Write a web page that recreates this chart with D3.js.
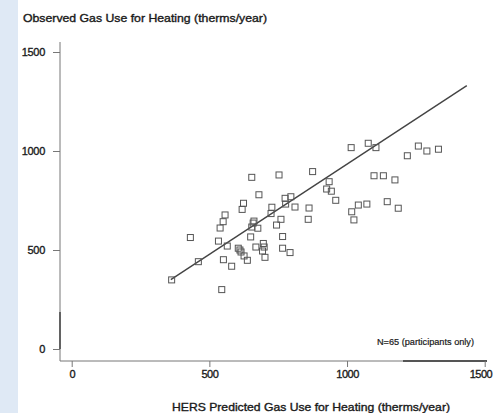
<!DOCTYPE html>
<html><head><meta charset="utf-8">
<script src="https://cdn.jsdelivr.net/npm/d3@7"></script>
<style>
html,body{margin:0;padding:0;background:#fff;}
svg{display:block;}
text{font-family:"Liberation Sans",Arial,sans-serif;fill:#1a1a1a;stroke:#1a1a1a;stroke-width:0.35px;}
</style></head>
<body>
<svg id="chart" width="493" height="413"></svg>
<script>
// Data (therms/year)
const predicted = [363,460,431,545,533,565,551,581,557,550,539,605,615,626,638,624,619,654,753,680,
  662,654,676,650,669,696,693,702,766,766,793,775,796,777,811,727,724,760,744,862,
  859,875,935,926,943,959,1015,1077,1105,1219,1259,1290,1332,1098,1132,1174,1041,1072,1017,1025,
  1146,1186,611,699,659];
const observed = [349,441,563,300,545,520,451,418,677,643,611,509,490,470,448,736,705,867,879,779,
  646,616,610,566,515,533,495,463,568,509,487,761,769,732,717,716,684,655,626,712,
  655,896,845,808,797,751,1017,1039,1017,976,1025,1000,1009,875,875,854,727,732,693,652,
  744,711,500,515,636];
const fitX = [360, 1435];
const fitY = [350, 1330];
const xTicks = [0, 500, 1000, 1500];
const yTicks = [0, 500, 1000, 1500];
const yTitle = "Observed Gas Use for Heating (therms/year)";
const xTitle = "HERS Predicted Gas Use for Heating (therms/year)";
const note = "N=65 (participants only)";

const svg = d3.select("#chart");
svg.append("rect").attr("x",0).attr("y",0).attr("width",18).attr("height",413).attr("fill","#dfe9f5");

const x = d3.scaleLinear().domain([0,1500]).range([71.7, 484.7]);
const y = d3.scaleLinear().domain([0,1500]).range([349, 52]);

const axisX = 60, axisY = 361;

// axes lines
svg.append("line").attr("x1",axisX).attr("x2",axisX).attr("y1",42).attr("y2",axisY)
  .attr("stroke","#777").attr("stroke-width",1);
svg.append("line").attr("x1",axisX).attr("x2",487).attr("y1",axisY).attr("y2",axisY)
  .attr("stroke","#777").attr("stroke-width",1);
// darker range segments
svg.append("line").attr("x1",axisX).attr("x2",axisX).attr("y1",312).attr("y2",349)
  .attr("stroke","#333").attr("stroke-width",1.3);
svg.append("line").attr("x1",403).attr("x2",487).attr("y1",axisY).attr("y2",axisY)
  .attr("stroke","#333").attr("stroke-width",1.3);

// y axis ticks
const yAxis = d3.axisLeft(y).tickValues(yTicks).tickSize(7).tickPadding(8).tickFormat(d3.format("d"));
const gy = svg.append("g").attr("transform",`translate(${axisX},0)`).call(yAxis);
gy.select(".domain").remove();
gy.selectAll(".tick line").attr("stroke","#777");
gy.selectAll(".tick text").attr("font-size",11).attr("fill","#1a1a1a").attr("letter-spacing","-0.3px");

// x axis ticks
const xAxis = d3.axisBottom(x).tickValues(xTicks).tickSize(6).tickPadding(3).tickFormat(d3.format("d"));
const gx = svg.append("g").attr("transform",`translate(0,${axisY})`).call(xAxis);
gx.select(".domain").remove();
gx.selectAll(".tick line").attr("stroke","#777");
gx.selectAll(".tick text").attr("font-size",11).attr("fill","#1a1a1a").attr("letter-spacing","-0.5px");
gx.selectAll(".tick text").filter(d=>d===1500).attr("text-anchor","end").attr("x",7);

// fit line
svg.append("line")
  .attr("x1",x(fitX[0])).attr("y1",y(fitY[0]))
  .attr("x2",x(fitX[1])).attr("y2",y(fitY[1]))
  .attr("stroke","#444").attr("stroke-width",1.4);

// points
const s = 6;
svg.append("g").selectAll("rect").data(predicted.map((p,i)=>[p,observed[i]])).join("rect")
  .attr("x",d=>x(d[0])-s/2).attr("y",d=>y(d[1])-s/2)
  .attr("width",s).attr("height",s)
  .attr("fill","none").attr("stroke","#555").attr("stroke-width",1);

// titles
svg.append("text").attr("x",23).attr("y",22).attr("font-size",10.5)
  .attr("textLength",244).attr("lengthAdjust","spacingAndGlyphs").text(yTitle);
svg.append("text").attr("x",172).attr("y",411).attr("font-size",10.5)
  .attr("textLength",278).attr("lengthAdjust","spacingAndGlyphs").text(xTitle);
svg.append("text").attr("x",377).attr("y",345).attr("font-size",8.5).style("stroke-width","0.2px")
  .attr("textLength",97).attr("lengthAdjust","spacingAndGlyphs").text(note);
</script>
</body></html>
